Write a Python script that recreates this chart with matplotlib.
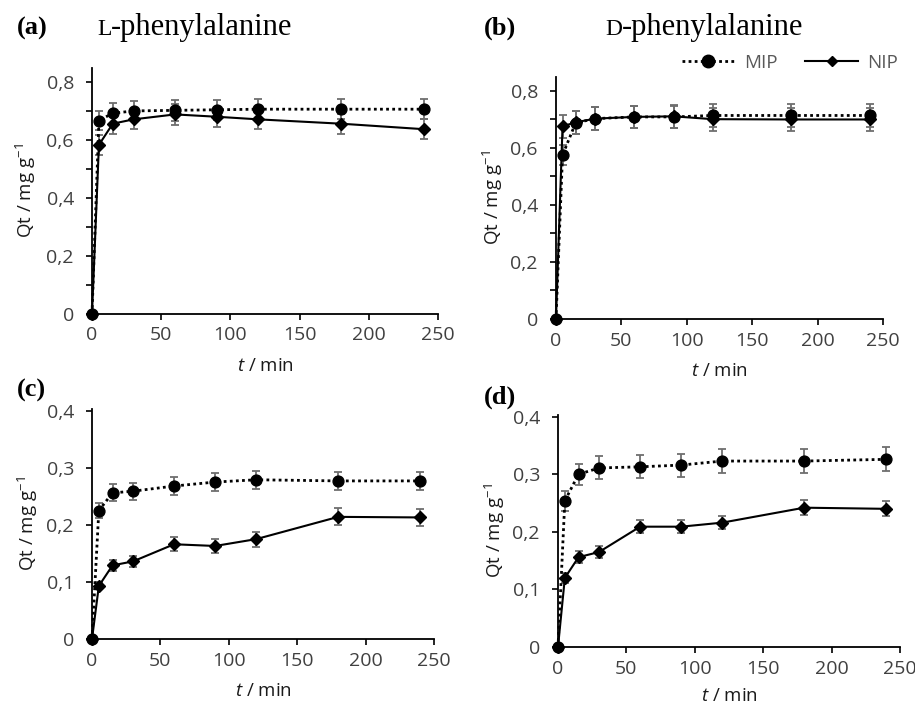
import matplotlib
matplotlib.use("Agg")
import matplotlib.pyplot as plt
from matplotlib.lines import Line2D

plt.rcParams['font.family'] = ['Open Sans', 'DejaVu Sans']
plt.rcParams['mathtext.fontset'] = 'custom'
plt.rcParams['mathtext.rm'] = 'Open Sans'
plt.rcParams['mathtext.it'] = 'Open Sans:italic'

# ---------------- data ----------------
t = [0, 5, 15, 30, 60, 90, 120, 180, 240]

a_mip = [0, 0.667, 0.692, 0.700, 0.702, 0.704, 0.706, 0.706, 0.706]
a_mip_err = [0, 0.033, 0.035, 0.035, 0.035, 0.035, 0.035, 0.035, 0.035]
a_nip = [0, 0.583, 0.656, 0.671, 0.688, 0.680, 0.671, 0.656, 0.637]
a_nip_err = [0, 0.035, 0.035, 0.035, 0.035, 0.035, 0.035, 0.035, 0.035]

b_mip = [0, 0.575, 0.688, 0.703, 0.709, 0.709, 0.714, 0.714, 0.714]
b_mip_err = [0, 0.035, 0.04, 0.04, 0.04, 0.04, 0.04, 0.04, 0.04]
b_nip = [0, 0.676, 0.690, 0.703, 0.709, 0.711, 0.701, 0.700, 0.700]
b_nip_err = [0, 0.04, 0.04, 0.04, 0.04, 0.04, 0.04, 0.04, 0.04]

c_mip = [0, 0.225, 0.256, 0.259, 0.268, 0.275, 0.279, 0.277, 0.277]
c_mip_err = [0, 0.013, 0.015, 0.015, 0.015, 0.016, 0.016, 0.016, 0.016]
c_nip = [0, 0.093, 0.129, 0.136, 0.166, 0.163, 0.175, 0.214, 0.213]
c_nip_err = [0, 0.006, 0.01, 0.01, 0.012, 0.012, 0.013, 0.015, 0.015]

d_mip = [0, 0.254, 0.300, 0.311, 0.313, 0.316, 0.323, 0.323, 0.326]
d_mip_err = [0, 0.017, 0.018, 0.02, 0.02, 0.02, 0.021, 0.021, 0.021]
d_nip = [0, 0.120, 0.156, 0.165, 0.209, 0.209, 0.216, 0.242, 0.240]
d_nip_err = [0, 0.008, 0.01, 0.01, 0.011, 0.011, 0.011, 0.013, 0.013]

xticks = [0, 50, 100, 150, 200, 250]
yticks_top = [0, 0.1, 0.2, 0.3, 0.4, 0.5, 0.6, 0.7, 0.8]
ylabels_top = ['0', '', '0,2', '', '0,4', '', '0,6', '', '0,8']
yticks_bot = [0, 0.1, 0.2, 0.3, 0.4]
ylabels_bot = ['0', '0,1', '0,2', '0,3', '0,4']

panel_letters = ['(a)', '(b)', '(c)', '(d)']
titles = ['L', 'D']

# ---------------- figure ----------------
fig = plt.figure(figsize=(9.15, 7.04), dpi=100)
W, H = 915, 704

def rect(l, r, b, t_):
    return [l / W, 1 - b / H, (r - l) / W, (b - t_) / H]

axes_px = [(92, 438, 314, 68), (556, 883, 319, 77),
           (92, 434, 639, 409), (558, 900, 647, 415)]
ylabel_x = [38, 505, 40, 507]
xlabel_top = [357, 362, 682, 687]
ylims = [0.848, 0.849, 0.403, 0.403]
data = [(a_mip, a_mip_err, a_nip, a_nip_err), (b_mip, b_mip_err, b_nip, b_nip_err),
        (c_mip, c_mip_err, c_nip, c_nip_err), (d_mip, d_mip_err, d_nip, d_nip_err)]

tick_col = '#404040'
err_col = '#6e6e6e'

axes = []
for i, p in enumerate(axes_px):
    ax = fig.add_axes(rect(*p))
    axes.append(ax)
    mip, mip_e, nip, nip_e = data[i]
    ax.errorbar(t, mip, yerr=mip_e, fmt='none', ecolor=err_col, elinewidth=1.3,
                capsize=3.2, capthick=1.3, zorder=2)
    ax.errorbar(t, nip, yerr=nip_e, fmt='none', ecolor=err_col, elinewidth=1.3,
                capsize=3.2, capthick=1.3, zorder=2)
    ax.plot(t, mip, linestyle=(0, (1, 1.2)), color='black', linewidth=2.0,
            marker='o', markersize=7.8, zorder=3)
    ax.plot(t, nip, linestyle='-', color='black', linewidth=1.5,
            marker='D', markersize=6.3, zorder=4)
    ax.set_xlim(0, 250)
    ax.set_ylim(0, ylims[i])
    ax.set_xticks(xticks)
    ax.set_xticklabels([str(x) for x in xticks])
    if i < 2:
        ax.set_yticks(yticks_top)
        ax.set_yticklabels(ylabels_top)
    else:
        ax.set_yticks(yticks_bot)
        ax.set_yticklabels(ylabels_bot)
    for s in ['top', 'right']:
        ax.spines[s].set_visible(False)
    for s in ['left', 'bottom']:
        ax.spines[s].set_linewidth(1.3)
        ax.spines[s].set_color('black')
    ax.tick_params(axis='both', direction='out', length=4, width=1.2,
                   colors='black', labelcolor=tick_col, labelsize=14)
    ax.tick_params(axis='x', pad=5)
    ax.tick_params(axis='y', pad=9)
    ax.set_xlabel('$t$ / min', fontsize=13.5, color='#1a1a1a')
    ax.set_ylabel('Qt / mg g$^{-1}$', fontsize=13.5, color='#1a1a1a')
    l, r, b, tp = p
    ax.yaxis.set_label_coords(ylabel_x[i] / W, 1 - (b + tp) / 2 / H,
                              transform=fig.transFigure)
    ax.xaxis.set_label_coords((l + r) / 2 / W, 1 - xlabel_top[i] / H,
                              transform=fig.transFigure)
    ax.patch.set_visible(False)
    for art in ax.get_children():
        try:
            art.set_clip_on(False)
        except Exception:
            pass

# panel letters
letter_pos = [(17, 35), (484, 35), (17, 397), (484, 404)]
for (x, y), lab in zip(letter_pos, panel_letters):
    fig.text(x / W, 1 - y / H, lab, fontsize=19, fontweight='bold',
             family='Liberation Serif', va='baseline', ha='left')

# titles with small-cap L / D
renderer = fig.canvas.get_renderer()
title_pos = [(97, 35), (605, 35)]
for (x, y), lab in zip(title_pos, titles):
    tl = fig.text(x / W, 1 - y / H, lab, fontsize=17, family='Liberation Serif',
                  va='baseline', ha='left')
    wpx = tl.get_window_extent(renderer=renderer).width
    fig.text((x + wpx) / W, 1 - y / H, '-phenylalanine', fontsize=22,
             family='Liberation Serif', va='baseline', ha='left')

# legend
h_mip = Line2D([], [], linestyle=(0, (1, 1.2)), color='black', linewidth=2.0,
               marker='o', markersize=9)
h_nip = Line2D([], [], linestyle='-', color='black', linewidth=1.5,
               marker='D', markersize=5)
leg = axes[1].legend([h_mip, h_nip], ['MIP', 'NIP'], ncol=2, frameon=False,
                     loc='center right', bbox_to_anchor=(898 / W, 1 - 63 / H),
                     bbox_transform=fig.transFigure, fontsize=13.5,
                     handlelength=2.8, columnspacing=1.5, handletextpad=0.5,
                     borderaxespad=0, borderpad=0, labelcolor='#595959')

fig.savefig('out.png', dpi=100)
